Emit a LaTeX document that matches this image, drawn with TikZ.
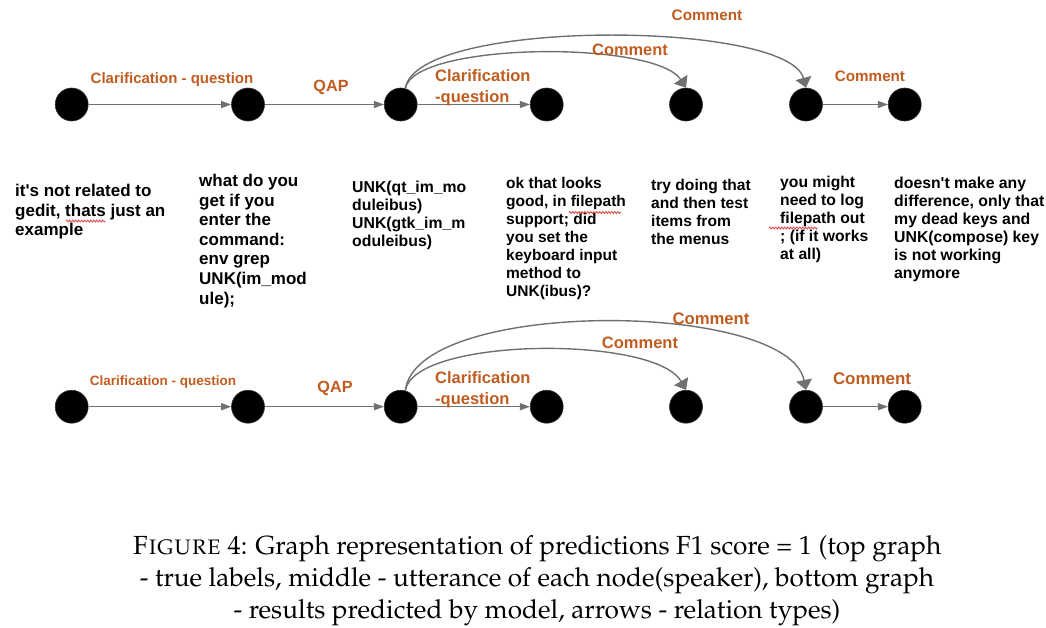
\documentclass[tikz,border=0pt]{standalone}
\usepackage[T1,TU]{fontenc}
\usepackage{fontspec}
\usetikzlibrary{arrows.meta,decorations.pathmorphing}
\newfontfamily\arial{Liberation Sans}
\definecolor{lblorange}{RGB}{192,92,32}
\definecolor{edgegray}{RGB}{112,112,112}
\definecolor{squig}{RGB}{225,70,70}
\begin{document}
\begin{tikzpicture}[x=1pt,y=-1pt,
  dot/.style={circle,fill=black,draw=black!80,line width=0.6pt,minimum size=33pt,inner sep=0pt},
  edge/.style={draw=edgegray,line width=1.4pt,-{Triangle[width=7pt,length=10pt]}},
  cedge/.style={draw=edgegray,line width=1.4pt,-{Triangle[width=16pt,length=10pt]}},
  lbl/.style={text=lblorange,font=\arial\bfseries\fontsize{#1}{#1}\selectfont,inner sep=0pt},
  lbl/.default=16,
  two/.style={text=lblorange,font=\arial\bfseries\fontsize{16.5}{21}\selectfont,inner sep=0pt,align=left,anchor=north west},
  utt/.style={font=\arial\bfseries\fontsize{#1}{18}\selectfont,inner sep=0pt,align=left,anchor=north west},
  uttbig/.style={font=\arial\bfseries\fontsize{17}{19.6}\selectfont,inner sep=0pt,align=left,anchor=north west},
  wavy/.style={draw=squig,line width=0.8pt,decorate,decoration={zigzag,amplitude=1pt,segment length=3pt}}
]
\useasboundingbox (0,0) rectangle (1046,627);

% ---------------- top graph ----------------
\node[dot] (t1) at (71.7,104.5) {};
\node[dot] (t2) at (248,104.5) {};
\node[dot] (t3) at (400.7,104.5) {};
\node[dot] (t4) at (546.7,104.5) {};
\node[dot] (t5) at (686,104.5) {};
\node[dot] (t6) at (806,104.5) {};
\node[dot] (t7) at (904.7,104.5) {};

\draw[edge] (t1) -- (t2);
\draw[edge] (t2) -- (t3);
\draw[edge] (t3) -- (t4);
\draw[edge] (t6) -- (t7);
\draw[cedge] (t3.74) .. controls (416,18) and (788,20) .. (t6.north);
\draw[cedge] (t3.74) .. controls (414,42) and (655,40) .. (t5.north);

\node[lbl=15] (lt12) at (172,80) {Clarification - question};
\node[lbl=16.2] (lt23) at (331,87) {QAP};
\node[two] (lt34) at (435,69) {Clarification\\-question};
\node[lbl=15.3] (lt36) at (707,15) {Comment};
\node[lbl=16.4] (lt35) at (630,50) {Comment};
\node[lbl=15.2] (lt67) at (870,76) {Comment};

% ---------------- utterances ----------------
\node[uttbig] (u1) at (15,184) {it's not related to\\gedit, thats just an\\example};
\node[uttbig] (u2) at (199,174) {what do you\\get if you\\enter the\\command:\\env grep\\UNK(im\_mod\\ule);};
\node[utt=15.8] (u3) at (352,181) {UNK(qt\_im\_mo\\duleibus)\\UNK(gtk\_im\_m\\oduleibus)};
\node[utt=15.5] (u4) at (506,177) {ok that looks\\good, in filepath\\support; did\\you set the\\keyboard input\\method to\\UNK(ibus)?};
\node[utt=15.6] (u5) at (651,179) {try doing that\\and then test\\items from\\the menus};
\node[utt=15.7] (u6) at (780,176) {you might\\need to log\\filepath out\\; (if it works\\at all)};
\node[utt=15.8] (u7) at (894,177) {doesn't make any\\difference, only that\\my dead keys and\\UNK(compose) key\\is not working\\anymore};

\draw[wavy] (66,221) -- (105,221);
\draw[wavy] (569,212.5) -- (621,212.5);
\draw[wavy] (769,228) -- (818,228);

% ---------------- bottom graph ----------------
\node[dot] (b1) at (71.7,406.7) {};
\node[dot] (b2) at (248,406.7) {};
\node[dot] (b3) at (400.7,406.7) {};
\node[dot] (b4) at (546.7,406.7) {};
\node[dot] (b5) at (686,406.7) {};
\node[dot] (b6) at (806,406.7) {};
\node[dot] (b7) at (904.7,406.7) {};

\draw[edge] (b1) -- (b2);
\draw[edge] (b2) -- (b3);
\draw[edge] (b3) -- (b4);
\draw[edge] (b6) -- (b7);
\draw[cedge] (b3.74) .. controls (416,298) and (788,300) .. (b6.north);
\draw[cedge] (b3.74) .. controls (414,337) and (655,335) .. (b5.north);

\node[lbl=13.5] (lb12) at (163,382.5) {Clarification - question};
\node[lbl=16.2] (lb23) at (335,388) {QAP};
\node[two] (lb34) at (435,371.5) {Clarification\\-question};
\node[lbl=16.7] (lb36) at (711,319) {Comment};
\node[lbl=16.5] (lb35) at (640,343) {Comment};
\node[lbl=16.9] (lb67) at (872,379) {Comment};

% ---------------- caption ----------------
\node[inner sep=0pt,align=center,text=black,
      font=\fontencoding{T1}\fontfamily{ppl}\fontsize{26.2}{32}\selectfont] (cap) at (537,581)
  {{\scshape Figure} 4: Graph representation of predictions F1 score = 1 (top graph\\
   - true labels, middle - utterance of each node(speaker), bottom graph\\
   - results predicted by model, arrows - relation types)};
\end{tikzpicture}
\end{document}
